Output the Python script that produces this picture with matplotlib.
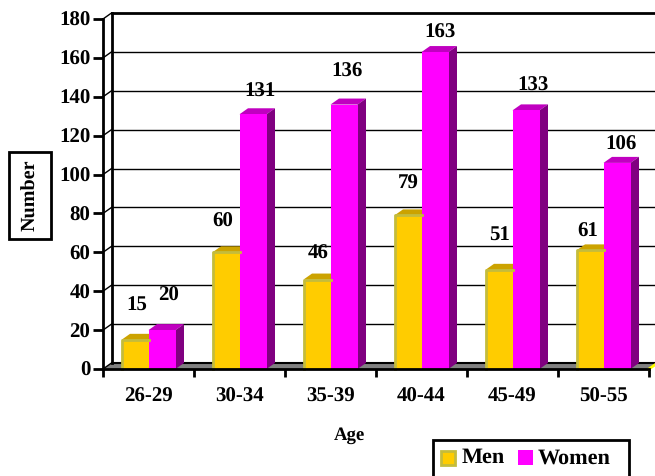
import matplotlib
matplotlib.use('Agg')
import matplotlib.pyplot as plt
from matplotlib.patches import Polygon, Rectangle
from matplotlib.transforms import Affine2D

plt.rcParams['font.family'] = ['Liberation Serif', 'DejaVu Serif']
plt.rcParams['font.weight'] = 'bold'
plt.rcParams['text.hinting'] = 'none'

# Chart data
ages = ['26-29', '30-34', '35-39', '40-44', '45-49', '50-55']
men = [15, 60, 46, 79, 51, 61]
women = [20, 131, 136, 163, 133, 106]
y_ticks = [0, 20, 40, 60, 80, 100, 120, 140, 160, 180]

# Label offsets from bar tops, in pixels (x, y)
men_label_offset = [(-6, 34), (-11, 31), (-6, 26), (-7, 32), (-7, 34), (-10, 19)]
women_label_offset = [(-1, 34), (0, 23), (-4, 33), (-2, 19), (0, 25), (-3, 18)]

# Colours
men_front = '#FFCC00'
men_edge = '#C4BC3C'
men_top = '#CCA300'
men_side = '#A08000'
women_front = '#FF00FF'
women_top = '#C000C0'
women_side = '#800080'
floor_gray = '#808080'

W, H = 655, 476
fig = plt.figure(figsize=(W / 100, H / 100), dpi=100)

# Front plane of the 3D box: x=103..649 px, y=369..19 px
ax = fig.add_axes([103 / W, 1 - 369 / H, 546 / W, 350 / H])
ax.set_xlim(0, 6)
ax.set_ylim(0, 180)
ax.patch.set_alpha(0)

# Depth of the box in data units
DX = 8.5 / 91
DY = 6 * 180 / 350
BAR = 27 / 91


def box_bar(x, value, front, top, side, edge=None):
    ax.add_patch(Polygon([(x, value), (x + DX, value + DY), (x + BAR + DX, value + DY), (x + BAR, value)],
                         fc=top, ec='none', clip_on=False, zorder=4))
    ax.add_patch(Polygon([(x + BAR, 0), (x + BAR + DX, DY), (x + BAR + DX, value + DY), (x + BAR, value)],
                         fc=side, ec='none', clip_on=False, zorder=4))
    ax.bar(x, value, BAR, align='edge', color=front, clip_on=False, zorder=5)
    if edge:
        ax.plot([x, x, x + BAR], [0, value, value], color=edge, lw=2, clip_on=False, zorder=6)


# Floor
ax.add_patch(Polygon([(0, 0), (DX, DY), (6 + DX, DY), (6, 0)], fc=floor_gray, ec='none',
                     clip_on=False, zorder=2))
ax.plot([DX, 6 + DX], [DY, DY], color='black', lw=1.5, clip_on=False, zorder=3)
ax.plot([6, 6 + DX], [0, DY], color='#FFFF00', lw=2, clip_on=False, zorder=3)

# Back wall gridlines and left wall
for t in y_ticks[1:]:
    ax.plot([DX, 6 + DX], [t + DY, t + DY], color='black',
            lw=1 if t != 180 else 2, clip_on=False, zorder=1)
for t in y_ticks:
    ax.plot([0, DX], [t, t + DY], color='black', lw=1, clip_on=False, zorder=3)
ax.plot([DX, DX], [DY, 180 + DY], color='black', lw=2, clip_on=False, zorder=3)

# Bars
for i in range(len(ages)):
    box_bar(i + 0.5 - BAR, men[i], men_front, men_top, men_side, edge=men_edge)
    box_bar(i + 0.5, women[i], women_front, women_top, women_side)

# Value labels
px_to_x = 6 / 546
px_to_y = 180 / 350
for i in range(len(ages)):
    ox, oy = men_label_offset[i]
    ax.text(i + 0.5 - BAR / 2 + 0.08 + ox * px_to_x, men[i] + oy * px_to_y, str(men[i]),
            ha='center', va='center', fontsize=15, zorder=7)
    ox, oy = women_label_offset[i]
    ax.text(i + 0.5 + BAR / 2 + 0.08 + ox * px_to_x, women[i] + oy * px_to_y, str(women[i]),
            ha='center', va='center', fontsize=15, zorder=7)

# Axes
for s in ['top', 'right']:
    ax.spines[s].set_visible(False)
for s in ['left', 'bottom']:
    ax.spines[s].set_linewidth(2)
    ax.spines[s].set_zorder(8)
ax.set_yticks(y_ticks)
ax.set_xticks(range(7))
ax.set_xticklabels([])
ax.set_xticks([i + 0.5 for i in range(6)], ages, minor=True)
ax.tick_params(axis='x', which='minor', length=0, labelsize=15, pad=13)
ax.tick_params(axis='x', which='major', length=6, width=2, direction='out')
ax.tick_params(axis='y', length=7, width=2, labelsize=15, pad=2)

# Annotations laid out in pixel coordinates
px = Affine2D().scale(1 / W, -1 / H).translate(0, 1) + fig.transFigure
fig.text(349, 435, 'Age', transform=px, ha='center', va='center', fontsize=13.5)
fig.patches.append(Rectangle((8.5, 151.5), 42, 87, transform=px, fc='white', ec='black', lw=2))
fig.text(31, 195, 'Number', transform=px, rotation=90, ha='center', va='center', fontsize=14.5)

# Legend box runs off the lower edge
fig.patches.append(Rectangle((433, 439.5), 196, 50, transform=px, fc='white', ec='black', lw=2))
fig.patches.append(Rectangle((441, 451), 14, 14, transform=px, fc=men_front, ec=men_edge, lw=2))
fig.patches.append(Rectangle((518, 450), 15, 15, transform=px, fc=women_front, ec='none'))
fig.text(462, 458, 'Men', transform=px, ha='left', va='center', fontsize=16)
fig.text(538, 458, 'Women', transform=px, ha='left', va='center', fontsize=16)

fig.savefig('out.png', dpi=100)
